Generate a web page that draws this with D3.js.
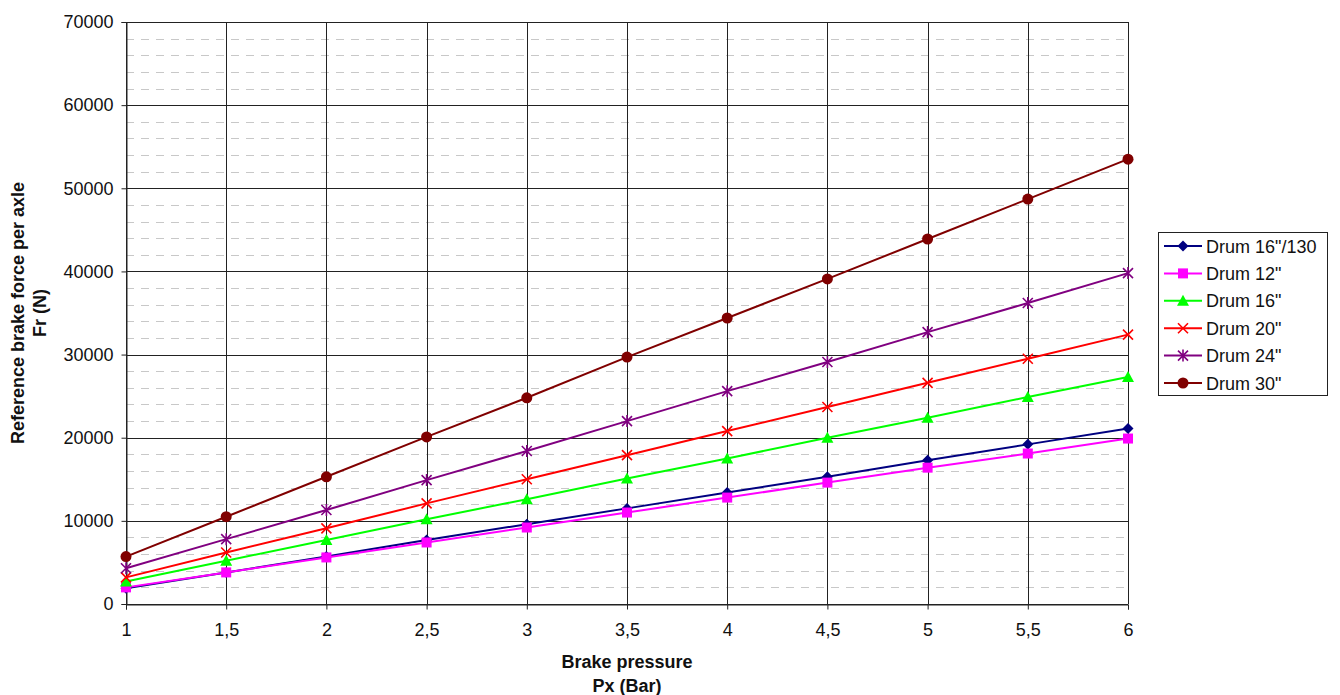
<!DOCTYPE html>
<html><head><meta charset="utf-8">
<script src="https://cdn.jsdelivr.net/npm/d3@7"></script>
<style>body{margin:0;background:#fff;font-family:"Liberation Sans",Arial,sans-serif;}</style>
</head><body><svg id="c" width="1340" height="695"></svg>
<script>
const pressures = [1,1.5,2,2.5,3,3.5,4,4.5,5,5.5,6];
const xTickLabels = ["1","1,5","2","2,5","3","3,5","4","4,5","5","5,5","6"];
const seriesNames = ['Drum 16"/130','Drum 12"','Drum 16"','Drum 20"','Drum 24"','Drum 30"'];
const drum16_130 = [1900,3800,5700,7700,9600,11500,13400,15300,17300,19200,21100];
const drum12 = [2000,3800,5600,7400,9200,11000,12800,14600,16400,18100,19900];
const drum16 = [2700,5200,7700,10200,12600,15100,17500,20000,22400,24900,27300];
const drum20 = [3200,6200,9100,12100,15000,17900,20800,23700,26600,29500,32400];
const drum24 = [4300,7800,11300,14900,18400,22000,25600,29100,32700,36200,39800];
const drum30 = [5700,10500,15300,20100,24800,29700,34400,39100,43900,48700,53500];
const yTicks = [0,10000,20000,30000,40000,50000,60000,70000];
const seriesValues = [drum16_130,drum12,drum16,drum20,drum24,drum30];
const colors = ["#000080","#FF00FF","#00FF00","#FF0000","#800080","#800000"];
const markers = ["diamond","square","triangle","x","star","circle"];

const FONT = "Liberation Sans, Arial, sans-serif";
const svg = d3.select("#c");
const L=126,R=1128,T=22,B=604;
const x = d3.scaleLinear().domain([1,6]).range([L,R]);
const y = d3.scaleLinear().domain([0,70000]).range([B,T]);

// minor dashed gridlines
const minor = d3.range(2000,70000,2000).filter(v=>v%10000!==0);
svg.append("g").selectAll("line").data(minor).join("line")
  .attr("x1",L).attr("x2",R).attr("y1",d=>Math.round(y(d))+0.5).attr("y2",d=>Math.round(y(d))+0.5)
  .attr("stroke","#c8c8c8").attr("stroke-dasharray","8,7");
// major horizontal
svg.append("g").selectAll("line").data(yTicks).join("line")
  .attr("x1",L).attr("x2",R).attr("y1",d=>Math.round(y(d))+0.5).attr("y2",d=>Math.round(y(d))+0.5)
  .attr("stroke","#222");
// vertical grid
svg.append("g").selectAll("line").data(pressures).join("line")
  .attr("x1",d=>Math.round(x(d))+0.5).attr("x2",d=>Math.round(x(d))+0.5).attr("y1",T).attr("y2",B)
  .attr("stroke","#222");

// axes
const yAxis = svg.append("g").attr("transform",`translate(${L+0.5},0)`)
  .call(d3.axisLeft(y).tickValues(yTicks).tickSize(5).tickPadding(8).tickFormat(d3.format("d")));
const xAxis = svg.append("g").attr("transform",`translate(0,${B+0.5})`)
  .call(d3.axisBottom(x).tickValues(pressures).tickSize(5).tickPadding(14).tickFormat((d,i)=>xTickLabels[i]));
[yAxis,xAxis].forEach(g=>{
  g.select(".domain").attr("stroke","#222");
  g.selectAll(".tick line").attr("stroke","#222");
  g.selectAll("text").attr("font-family",FONT).attr("font-size",18).attr("fill","#111");
});

function drawMarker(g, type, color, cx, cy){
  const s=5.5;
  if(type==="diamond") g.append("path").attr("d",`M${cx},${cy-s}L${cx+s},${cy}L${cx},${cy+s}L${cx-s},${cy}Z`).attr("fill",color);
  else if(type==="square") g.append("rect").attr("x",cx-5).attr("y",cy-5).attr("width",10).attr("height",10).attr("fill",color);
  else if(type==="triangle") g.append("path").attr("d",`M${cx},${cy-6}L${cx+6},${cy+5}L${cx-6},${cy+5}Z`).attr("fill",color);
  else if(type==="x") g.append("path").attr("d",`M${cx-5},${cy-5}L${cx+5},${cy+5}M${cx-5},${cy+5}L${cx+5},${cy-5}`).attr("stroke",color).attr("stroke-width",1.6);
  else if(type==="star") g.append("path").attr("d",`M${cx-5},${cy-5}L${cx+5},${cy+5}M${cx-5},${cy+5}L${cx+5},${cy-5}M${cx},${cy-6}L${cx},${cy+6}`).attr("stroke",color).attr("stroke-width",1.6);
  else if(type==="circle") g.append("circle").attr("cx",cx).attr("cy",cy).attr("r",5.5).attr("fill",color);
}

const line = d3.line().x((d,i)=>x(pressures[i])).y(d=>y(d));
seriesValues.forEach((vals,si)=>{
  const g = svg.append("g");
  g.append("path").datum(vals).attr("d",line).attr("fill","none").attr("stroke",colors[si]).attr("stroke-width",2);
  vals.forEach((v,i)=>drawMarker(g,markers[si],colors[si],x(pressures[i]),y(v)));
});

// axis titles
const yt = svg.append("text").attr("transform","translate(24,313) rotate(-90)").attr("text-anchor","middle")
  .attr("font-family",FONT).attr("font-size",18).attr("font-weight","bold").attr("fill","#111");
yt.append("tspan").attr("x",0).attr("dy",0).text("Reference brake force per axle");
yt.append("tspan").attr("x",0).attr("dy",22).text("Fr (N)");
svg.append("text").attr("x",627).attr("y",668).attr("text-anchor","middle").attr("font-family",FONT).attr("font-size",18).attr("font-weight","bold").attr("fill","#111").text("Brake pressure");
svg.append("text").attr("x",627).attr("y",692).attr("text-anchor","middle").attr("font-family",FONT).attr("font-size",18).attr("font-weight","bold").attr("fill","#111").text("Px (Bar)");

// legend
const lg = svg.append("g");
const rowH = 27.4, firstRow = 246;
lg.append("rect").attr("x",1158.5).attr("y",232.5).attr("width",169).attr("height",163).attr("fill","#fff").attr("stroke","#222");
seriesNames.forEach((n,i)=>{
  const ly = firstRow+i*rowH;
  lg.append("line").attr("x1",1164).attr("x2",1202).attr("y1",ly).attr("y2",ly).attr("stroke",colors[i]).attr("stroke-width",2);
  drawMarker(lg,markers[i],colors[i],1183,ly);
  lg.append("text").attr("x",1206).attr("y",ly+6.5).attr("font-family",FONT).attr("font-size",18).attr("fill","#111").text(n);
});
</script></body></html>
